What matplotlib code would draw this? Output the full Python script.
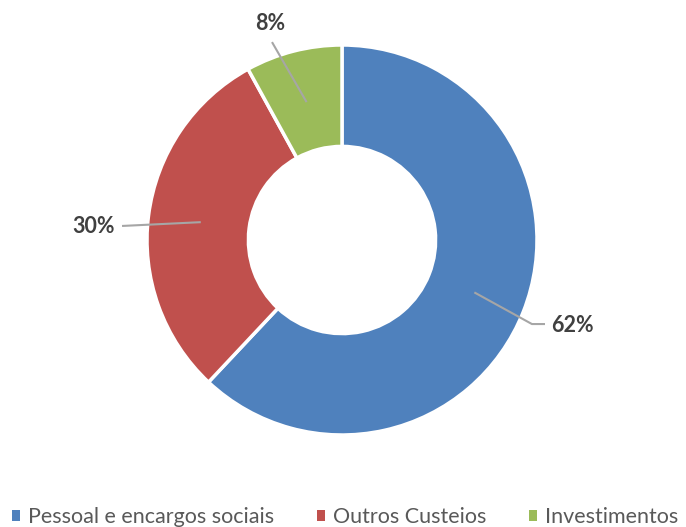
import matplotlib
matplotlib.use('Agg')
import matplotlib.pyplot as plt
from matplotlib.patches import Patch
import numpy as np

categories = ['Pessoal e encargos sociais', 'Outros Custeios', 'Investimentos']
values = [62, 30, 8]
colors = ['#4F81BD', '#C0504D', '#9BBB59']

# label placement (data units, radius 1 = outer edge): elbow, end, text position
label_elbow = [(0.974, -0.431), (-1.128, 0.072), (-0.359, 1.015)]
label_end = [(1.041, -0.431), (-1.128, 0.072), (-0.359, 1.015)]
label_text = [(1.075, -0.44), (-1.165, 0.07), (-0.37, 1.11)]
label_ha = ['left', 'right', 'center']

plt.rcParams['font.family'] = ['Lato', 'DejaVu Sans']

fig = plt.figure(figsize=(6.86, 5.27), dpi=100)
cx, cy, R = 342, 240, 195
ax = fig.add_axes([(cx - R) / 686, (527 - cy - R) / 527, 2 * R / 686, 2 * R / 527])

wedges, _ = ax.pie(values, colors=colors, startangle=90, counterclock=False,
                   radius=1, wedgeprops=dict(width=0.52, edgecolor='white', linewidth=2.5))
ax.set_xlim(-1, 1)
ax.set_ylim(-1, 1)
ax.set_aspect('equal')

total = sum(values)
start = 90.0
for i, v in enumerate(values):
    mid = np.deg2rad(start - v / total * 360 / 2)
    start -= v / total * 360
    x0, y0 = 0.73 * np.cos(mid), 0.73 * np.sin(mid)
    xs = [x0, label_elbow[i][0], label_end[i][0]]
    ys = [y0, label_elbow[i][1], label_end[i][1]]
    ax.plot(xs, ys, color='#A6A6A6', lw=1.5, clip_on=False, solid_capstyle='butt')
    ax.text(label_text[i][0], label_text[i][1], f'{v}%', ha=label_ha[i], va='center',
            fontsize=15.5, fontweight='bold', color='#404040')

handles = [Patch(facecolor=c, edgecolor='none') for c in colors]
fig.legend(handles, categories, loc='center', bbox_to_anchor=(0.503, 0.019), ncol=3,
           frameon=False, fontsize=15.5, labelcolor='#595959',
           handlelength=0.38, handleheight=0.38, handletextpad=0.35, columnspacing=2.0,
           borderpad=0, borderaxespad=0)

fig.savefig('out.png', dpi=100)
